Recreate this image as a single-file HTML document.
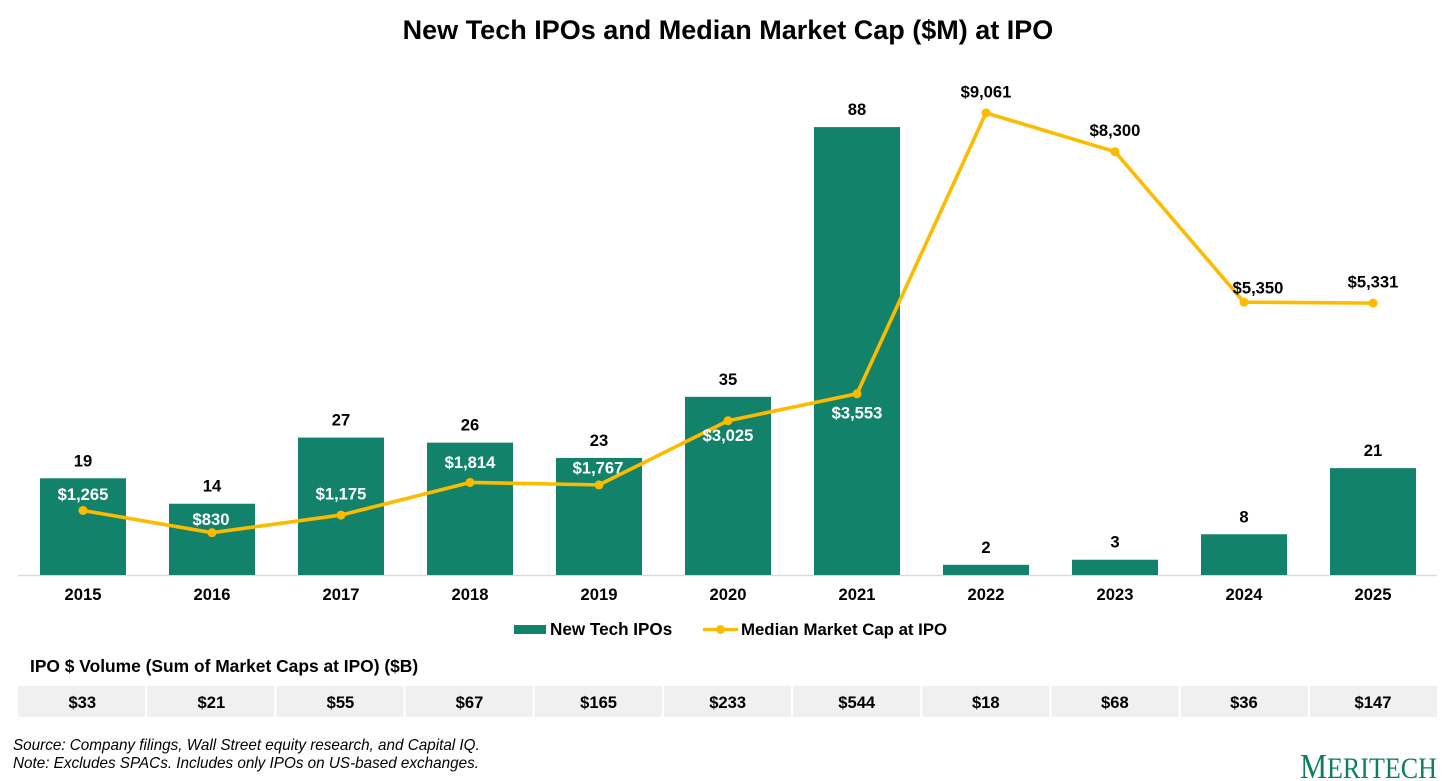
<!DOCTYPE html>
<html lang="en">
<head>
<meta charset="utf-8">
<title>New Tech IPOs and Median Market Cap ($M) at IPO</title>
<style>
html,body{margin:0;padding:0;background:#fff;}
svg{display:block;}
text{font-family:"Liberation Sans",Arial,sans-serif;fill:#000;}
.b{font-weight:bold;font-size:16.6px;}
</style>
</head>
<body>
<svg id="chart" xmlns="http://www.w3.org/2000/svg" width="1456" height="781" viewBox="0 0 1456 781">
  <text x="728" y="39" text-anchor="middle" font-size="27" font-weight="bold">New Tech IPOs and Median Market Cap ($M) at IPO</text>
  <line x1="18" x2="1437" y1="575.5" y2="575.5" stroke="#d9d9d9" stroke-width="1.5"/>
  <g id="bars"></g>
  <g id="line-series"></g>
  <g id="labels"></g>
  <g id="ticks"></g>

  <g>
    <rect x="514" y="625" width="32" height="9" fill="#13826a"/>
    <text class="b" x="550" y="635" style="font-size:17.1px">New Tech IPOs</text>
    <line x1="703" x2="738" y1="629.5" y2="629.5" stroke="#fdbb00" stroke-width="3.2"/>
    <circle cx="720.5" cy="629.5" r="4.5" fill="#fdbb00"/>
    <text class="b" x="741" y="635" style="font-size:16.8px">Median Market Cap at IPO</text>
  </g>

  <text class="b" x="30" y="672" style="font-size:17.4px">IPO $ Volume (Sum of Market Caps at IPO) ($B)</text>
  <g id="volume-table"></g>

  <text x="13" y="750" font-size="15.25" font-style="italic">Source: Company filings, Wall Street equity research, and Capital IQ.</text>
  <text x="13" y="768" font-size="15.25" font-style="italic">Note: Excludes SPACs. Includes only IPOs on US-based exchanges.</text>

  <text x="1300" y="778" font-size="30" textLength="137" lengthAdjust="spacingAndGlyphs" style="font-family:'Liberation Serif',serif;fill:#0f7d62;"><tspan font-size="35">M</tspan>ERITECH</text>
</svg>
<script>
const years = ['2015','2016','2017','2018','2019','2020','2021','2022','2023','2024','2025'];
const ipoCounts = [19,14,27,26,23,35,88,2,3,8,21];
const medianCaps = [1265,830,1175,1814,1767,3025,3553,9061,8300,5350,5331];
const volumes = [33,21,55,67,165,233,544,18,68,36,147];

const svgNS = 'http://www.w3.org/2000/svg';
const baseY = 575;
const xFor = i => 83 + i * 129;
const yBar = v => baseY - v * 5.09;
const yCap = v => baseY - v * 0.051;
const money = v => '$' + v.toLocaleString('en-US');

// Label placement relative to each marker (layout only, not data)
const capLabelShift = [-16,-13,-21,-20,-17,15,19,-21,-21,-14,-21];
const capLabelNudge = [0,-1,0,0,-1,0,0,0,0,14,0];
const capLabelOnBar = [true,true,true,true,true,true,true,false,false,false,false];

function make(tag, attrs, parent, text) {
  const el = document.createElementNS(svgNS, tag);
  for (const k in attrs) el.setAttribute(k, attrs[k]);
  if (text !== undefined) el.textContent = text;
  parent.appendChild(el);
  return el;
}

const barsG = document.getElementById('bars');
const lineG = document.getElementById('line-series');
const labelsG = document.getElementById('labels');
const ticksG = document.getElementById('ticks');
const tableG = document.getElementById('volume-table');

ipoCounts.forEach((v, i) => {
  const top = yBar(v);
  const bar = make('rect', {x: xFor(i) - 43, y: top, width: 86, height: baseY - top, fill: '#13826a'}, barsG);
  
  
  const lab = make('text', {x: xFor(i), y: top - 12, 'text-anchor': 'middle', class: 'b'}, labelsG, String(v));
  
  
  const tick = make('text', {x: xFor(i), y: 600, 'text-anchor': 'middle', class: 'b'}, ticksG, years[i]);
  
  
});

const path = make('polyline', {
  points: medianCaps.map((v, i) => xFor(i) + ',' + yCap(v)).join(' '),
  fill: 'none', stroke: '#fdbb00', 'stroke-width': 3.6, 'stroke-linejoin': 'round'
}, lineG);



medianCaps.forEach((v, i) => {
  const y = yCap(v);
  const pt = make('circle', {cx: xFor(i), cy: y, r: 4.5, fill: '#fdbb00'}, lineG);
  
  
  const lab = make('text', {x: xFor(i) + capLabelNudge[i], y: y + capLabelShift[i] + 5.5, 'text-anchor': 'middle', class: 'b'}, labelsG, money(v));
  
  
  lab.style.fill = capLabelOnBar[i] ? '#fff' : '#000';
});

volumes.forEach((v, i) => {
  const cell = make('rect', {x: 18 + i * 129.2, y: 686, width: 127, height: 31, fill: '#f0f0f0'}, tableG);
  
  
  const t = make('text', {x: 82.3 + i * 129.07, y: 708, 'text-anchor': 'middle', class: 'b'}, tableG, money(v));
  
  
});
</script>
</body>
</html>
